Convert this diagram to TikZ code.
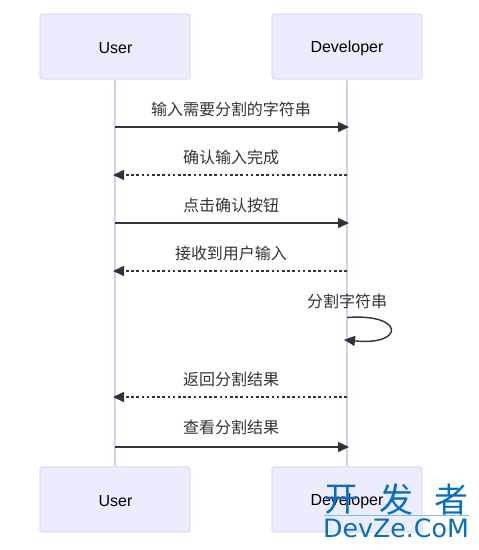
\documentclass[tikz,border=0pt]{standalone}
\usepackage{fontspec}
\setmainfont{Liberation Sans}
\newfontfamily\cjk{Noto Sans CJK SC}
\newfontfamily\wmfont{DejaVu Sans}
\usetikzlibrary{arrows.meta}
\definecolor{actorfill}{HTML}{ECECFF}
\definecolor{actorline}{HTML}{E2DCF6}
\definecolor{lifeline}{HTML}{D6CDF2}
\definecolor{msgline}{HTML}{333333}
\definecolor{wm}{HTML}{0A6EB8}
\definecolor{wmrule}{HTML}{7FBCE6}
\tikzset{
  x=1pt,y=-1pt,
  actor/.style={draw=actorline,fill=actorfill,line width=1.3pt,rounded corners=2.5pt,minimum width=150pt,minimum height=65pt,inner sep=0pt,text=black},
  actortext/.style={font=\fontsize{16}{18}\selectfont,text=black,inner sep=0pt},
  life/.style={draw=lifeline,line width=2pt},
  msg/.style={draw=msgline,line width=1.4pt,shorten >=-2pt,-{Triangle[length=11pt,width=10pt,fill=msgline]}},
  reply/.style={msg,line width=1.5pt,dash pattern=on 2.6pt off 2.6pt},
  lab/.style={font=\cjk\fontsize{16}{18}\selectfont,text=msgline,inner sep=0pt},
  wmcjk/.style={font=\cjk\fontsize{34}{36}\selectfont,text=wm,inner sep=0pt},
  wmlat/.style={font=\wmfont\fontsize{25.3}{28}\selectfont,text=wm,inner sep=0pt},
}
\begin{document}
\begin{tikzpicture}
\useasboundingbox (0,0) rectangle (479,550);
\node[actor] (ut) at (115,46.5) {};
\node[actor] (dt) at (347,46.5) {};
\node[actor] (ub) at (115,499.5) {};
\node[actor] (db) at (347,499.5) {};
\node[actortext] (utl) at (115.5,48.2) {User};
\node[actortext] (dtl) at (347,48.2) {Developer};
\node[actortext] (ubl) at (115.5,501.2) {User};
\node[actortext] (dbl) at (347,501.2) {Developer};
\draw[life] (ut.south) -- (ub.north);
\draw[life] (dt.south) -- (db.north);
\foreach \n/\y in {1/127,2/175,3/223,4/271,5/397,6/447}{
  \coordinate (u\n) at (115,\y);
  \coordinate (d\n) at (347,\y);
}
\coordinate (s1) at (347,317.5);
\coordinate (s2) at (346,340);
\draw[msg] (u1) -- (d1);
\draw[reply] (d2) -- (u2);
\draw[msg] (u3) -- (d3);
\draw[reply] (d4) -- (u4);
\draw[msg] (s1) .. controls (405,313) and (405,346) .. (s2);
\draw[reply] (d5) -- (u5);
\draw[msg] (u6) -- (d6);
\node[lab] (m1) at (231,109.5) {输入需要分割的字符串};
\node[lab] (m2) at (231,157.5) {确认输入完成};
\node[lab] (m3) at (231,205.5) {点击确认按钮};
\node[lab] (m4) at (231,253.5) {接收到用户输入};
\node[lab] (m5) at (347,301.5) {分割字符串};
\node[lab] (m6) at (231,379.5) {返回分割结果};
\node[lab] (m7) at (231,427.5) {查看分割结果};
\node[wmcjk] (w1) at (341,500) {开};
\node[wmcjk] (w2) at (396,500) {发};
\node[wmcjk] (w3) at (451,500) {者};
\coordinate (wl) at (324,515.7);
\coordinate (wr) at (469,515.7);
\draw[draw=wmrule,line width=0.8pt] (wl) -- (wr);
\node[wmlat] (w4) at (396,528) {DevZe.CoM};
\end{tikzpicture}
\end{document}
